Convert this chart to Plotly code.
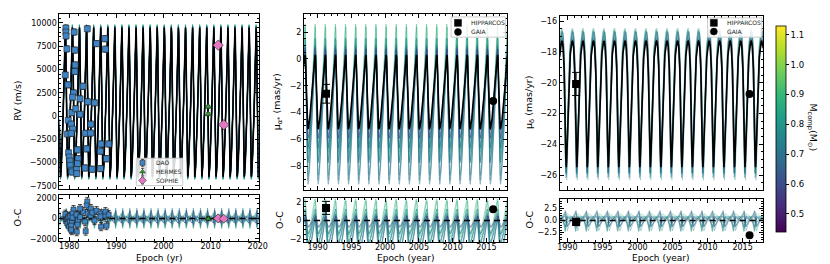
import numpy as np
import plotly.graph_objects as go
from plotly.colors import sample_colorscale

W, H = 830, 264

dao_epoch = [1979.30, 1979.30, 1979.33, 1979.51, 1979.16, 1979.72, 1979.79, 1979.65, 1979.86, 1980.00,
             1980.14, 1980.21, 1980.42, 1980.56, 1981.05, 1981.19, 1981.26, 1981.19, 1980.91, 1980.70,
             1980.56, 1981.39, 1980.42, 1980.70, 1980.42, 1981.74, 1981.88, 1981.74, 1981.53, 1981.60,
             1982.93, 1982.30, 1982.30, 1983.84, 1983.91, 1983.49, 1983.70, 1984.60, 1984.53, 1983.35,
             1984.88, 1985.79, 1985.37, 1986.62, 1987.53, 1987.67, 1986.76, 1986.62, 1987.88, 1988.37]
dao_rv = [9440, 9010, 8590, 7200, 4400, 3350, -450, -1930, -3940, -4400,
          -4830, -5290, -5810, -6000, 9010, 7070, 5480, 4780, 2480, 2020,
          360, 780, -870, -1400, -1860, -3630, -4580, -5110, -5740, -6170,
          3190, 1850, 190, 9360, 1530, -1860, -3520, -870, -1830, -5570,
          -5710, 7770, 1420, -5640, 8300, 7170, -3000, -3770, -4580, -3000]
dao_oc = [150, -250, 300, -100, 450, -350, 200, -500, 100, -800,
          -300, 250, -1000, -1200, 600, -150, 350, 0, 900, 500,
          -400, 200, -700, 100, -1100, 300, -200, -600, 400, -1300,
          700, 1000, 150, 1700, 500, -1250, 1300, 1000, 300, -300,
          600, 800, -200, 500, 300, 700, -800, 200, -700, 400]
dao_err = 330

hermes_epoch = [2009.5, 2009.5]
hermes_rv = [1000, 200]
hermes_oc = [40, -30]
hermes_err = 150

sophie_epoch = [2011.6, 2012.8]
sophie_rv = [7600, -940]
sophie_oc = [20, -10]
sophie_err = 120

hip_epoch = [1991.25]
gaia_epoch = [2016.0]
pmra_hip = [-2.6]
pmra_hip_err = [0.7]
pmra_gaia = [-3.15]
pmra_hip_oc = [1.35]
pmra_gaia_oc = [1.2]
pmdec_hip = [-20.08]
pmdec_hip_err = [0.75]
pmdec_gaia = [-20.73]
pmdec_hip_oc = [-0.3]
pmdec_gaia_oc = [-3.1]

# ---------------- best-fit orbit parameters ----------------
orbit_period = 1.50
orbit_ecc = 0.35
orbit_t_peri = 1980.80
rv_center, rv_a, rv_b = 1500.0, 6928.0, 4000.0
pmra_center, pmra_a, pmra_b = -2.45, 2.60, 0.90
pmdec_center, pmdec_a, pmdec_b = -21.40, 1.54, -3.80

# ---------------- posterior draws (colour = companion mass) ----------------
draw_mass = [0.90, 0.86, 0.82, 0.80, 0.78, 0.76, 0.74, 0.72, 0.70, 0.66, 0.62, 0.58]
draw_dt = [-0.014, 0.011, -0.006, 0.003, -0.010, 0.015, -0.004, 0.009, -0.012, 0.005, -0.008, 0.012]
draw_dt_pmdec = [-0.070, 0.055, -0.030, 0.016, -0.050, 0.075, -0.020, 0.045, -0.060, 0.025, -0.040, 0.060]
draw_rv_scale = [1.04, 1.02, 0.98, 1.01, 1.03, 0.99, 1.00, 1.02, 0.98, 1.01, 0.99, 0.97]
draw_pmra_scale = [1.67, 1.70, 1.50, 1.65, 1.60, 1.70, 1.55, 1.80, 1.75, 1.35, 1.25, 1.20]
draw_pmra_center = [-2.0, -2.3, -2.6, -3.0, -3.3, -4.0, -3.5, -4.4, -4.25, -2.9, -2.5, -2.6]
draw_pmdec_scale = [1.14, 1.12, 1.09, 1.16, 1.13, 1.18, 1.10, 1.15, 1.12, 1.08, 1.05, 1.02]
draw_pmdec_center = [-21.2, -21.3, -21.4, -21.2, -21.3, -21.5, -21.1, -21.4, -21.6, -21.2, -21.5, -21.3]
mass_min, mass_max = 0.44, 1.13

# ---------------- axis ranges ----------------
rv_xr = [1977.9, 2020.2]
pm_xr = [1988.0, 2018.1]
pd_xr = [1988.9, 2017.9]


def true_anomaly(t, tp):
    e = orbit_ecc
    M = 2 * np.pi * (np.asarray(t) - tp) / orbit_period
    E = M.copy()
    for _ in range(40):
        E = E - (E - e * np.sin(E) - M) / (1 - e * np.cos(E))
    return 2 * np.arctan2(np.sqrt(1 + e) * np.sin(E / 2), np.sqrt(1 - e) * np.cos(E / 2))


def shape(nu, a, b):
    return a * (-np.sin(nu)) + b * np.cos(nu)


def rgba(c, a):
    c = c.replace("rgb(", "").replace(")", "")
    return f"rgba({c},{a})"


def px(x):
    return x / W


def py(y):
    return 1 - y / H


t_rv = np.linspace(rv_xr[0], rv_xr[1], 3400)
t_pm = np.linspace(pm_xr[0], pm_xr[1], 2800)
t_pd = np.linspace(pd_xr[0], pd_xr[1], 2800)

fig = go.Figure()

panels = [
    (t_rv, rv_center, rv_a, rv_b, draw_rv_scale, [rv_center] * len(draw_mass), draw_dt,
     ("x", "y"), ("x2", "y2"), 0.75, 0.45),
    (t_pm, pmra_center, pmra_a, pmra_b, draw_pmra_scale, draw_pmra_center, draw_dt,
     ("x3", "y3"), ("x4", "y4"), 0.45, 0.45),
    (t_pd, pmdec_center, pmdec_a, pmdec_b, draw_pmdec_scale, draw_pmdec_center, draw_dt_pmdec,
     ("x5", "y5"), ("x6", "y6"), 0.28, 0.35),
]

for (tg, cen, a, b, dscale, dcen, dts, (xm, ym), (xo, yo), alpha, alpha_oc) in panels:
    best = cen + shape(true_anomaly(tg, orbit_t_peri), a, b)
    for i, m in enumerate(draw_mass):
        col = sample_colorscale("Viridis", [(m - mass_min) / (mass_max - mass_min)])[0]
        model = dcen[i] + dscale[i] * shape(true_anomaly(tg, orbit_t_peri + dts[i]), a, b)
        fig.add_trace(go.Scatter(x=tg, y=model, mode="lines", line=dict(color=rgba(col, alpha), width=1),
                                 xaxis=xm, yaxis=ym, showlegend=False, hoverinfo="skip"))
        fig.add_trace(go.Scatter(x=tg, y=model - best, mode="lines", line=dict(color=rgba(col, alpha_oc), width=1),
                                 xaxis=xo, yaxis=yo, showlegend=False, hoverinfo="skip"))
    fig.add_trace(go.Scatter(x=tg, y=best, mode="lines", line=dict(color="black", width=1.6),
                             xaxis=xm, yaxis=ym, showlegend=False, hoverinfo="skip"))
    fig.add_trace(go.Scatter(x=[tg[0], tg[-1]], y=[0, 0], mode="lines",
                             line=dict(color="black", width=1.5, dash="6px,4px"),
                             xaxis=xo, yaxis=yo, showlegend=False, hoverinfo="skip"))

# ---- RV data ----
EDGE = "#222222"
rv_sets = [
    ("DAO", dao_epoch, dao_rv, dao_oc, dao_err, "#3d85c6", "square", 6),
    ("HERMES", hermes_epoch, hermes_rv, hermes_oc, hermes_err, "#2ca02c", "triangle-up", 6),
    ("SOPHIE", sophie_epoch, sophie_rv, sophie_oc, sophie_err, "#e377c2", "diamond", 8),
]
for name, ep, val, oc, err, col, sym, sz in rv_sets:
    fig.add_trace(go.Scatter(x=ep, y=val, mode="markers",
                             marker=dict(color=col, symbol=sym, size=sz, line=dict(color=EDGE, width=0.6)),
                             error_y=dict(type="constant", value=err, color=EDGE, thickness=0.8, width=2),
                             xaxis="x", yaxis="y", showlegend=False))
    fig.add_trace(go.Scatter(x=ep, y=oc, mode="markers",
                             marker=dict(color=col, symbol=sym, size=sz - 1, line=dict(color=EDGE, width=0.6)),
                             error_y=dict(type="constant", value=err * 1.2, color=EDGE, thickness=0.8, width=2),
                             xaxis="x2", yaxis="y2", showlegend=False))

# ---- astrometry data ----
for (xm, ym, xo, yo, hv, he, gv, hoc, goc) in [
    ("x3", "y3", "x4", "y4", pmra_hip, pmra_hip_err, pmra_gaia, pmra_hip_oc, pmra_gaia_oc),
    ("x5", "y5", "x6", "y6", pmdec_hip, pmdec_hip_err, pmdec_gaia, pmdec_hip_oc, pmdec_gaia_oc),
]:
    eb = dict(type="data", array=he, color="black", thickness=1, width=4)
    fig.add_trace(go.Scatter(x=hip_epoch, y=hv, mode="markers", marker=dict(color="black", symbol="square", size=8),
                             error_y=eb, xaxis=xm, yaxis=ym, showlegend=False))
    fig.add_trace(go.Scatter(x=gaia_epoch, y=gv, mode="markers", marker=dict(color="black", symbol="circle", size=8),
                             xaxis=xm, yaxis=ym, showlegend=False))
    fig.add_trace(go.Scatter(x=hip_epoch, y=hoc, mode="markers", marker=dict(color="black", symbol="square", size=8),
                             error_y=eb, xaxis=xo, yaxis=yo, showlegend=False))
    fig.add_trace(go.Scatter(x=gaia_epoch, y=goc, mode="markers", marker=dict(color="black", symbol="circle", size=8),
                             xaxis=xo, yaxis=yo, showlegend=False))

# ---- colorbar ----
fig.add_trace(go.Scatter(
    x=[2000], y=[1000], mode="markers", xaxis="x3", yaxis="y3", showlegend=False, hoverinfo="skip",
    marker=dict(color=[0.8], cmin=mass_min, cmax=mass_max, colorscale="Viridis", size=1, opacity=0,
                showscale=True,
                colorbar=dict(x=px(776), xanchor="left", y=py(17), yanchor="top",
                              thicknessmode="pixels", thickness=10, lenmode="pixels", len=206,
                              xpad=0, ypad=0, outlinewidth=0.8, outlinecolor="black",
                              tickvals=[0.5, 0.6, 0.7, 0.8, 0.9, 1.0, 1.1], tickformat=".1f",
                              ticks="outside", ticklen=3,
                              tickcolor="black", tickfont=dict(size=8.5, color="black")))))

# ---- hand-drawn legends on a full-figure overlay (pixel coordinates) ----
legend_boxes = [(128, 151, 175, 178.5), (447, 8, 502, 28.5), (707, 9, 762, 28.5)]
for (x0, y0, x1, y1) in legend_boxes:
    fig.add_trace(go.Scatter(x=[x0, x1, x1, x0, x0], y=[y0, y0, y1, y1, y0], mode="lines", fill="toself",
                             fillcolor="rgba(255,255,255,0.85)", line=dict(color="#cccccc", width=1),
                             xaxis="x7", yaxis="y7", showlegend=False, hoverinfo="skip"))
legend_items = [
    (134.3, 155.6, "square", "#3d85c6", 5, 3.5, "DAO"),
    (134.3, 164.6, "triangle-up", "#2ca02c", 5, 3.5, "HERMES"),
    (134.3, 173.4, "diamond", "#e377c2", 6, 3.5, "SOPHIE"),
    (454.0, 14.0, "square", "black", 7, 0, "HIPPARCOS"),
    (454.0, 23.2, "circle", "black", 7, 0, "GAIA"),
    (713.3, 14.0, "square", "black", 7, 0, "HIPPARCOS"),
    (713.3, 22.8, "circle", "black", 7, 0, "GAIA"),
]
for (mx, my, sym, col, sz, eb, lab) in legend_items:
    fig.add_trace(go.Scatter(x=[mx], y=[my], mode="markers",
                             marker=dict(symbol=sym, color=col, size=sz,
                                         line=dict(color=EDGE if col != "black" else "black", width=0.5)),
                             error_y=dict(type="constant", value=eb, color=EDGE, thickness=0.8, width=1.5,
                                          visible=eb > 0),
                             xaxis="x7", yaxis="y7", showlegend=False, hoverinfo="skip"))
    fig.add_annotation(text=lab, x=mx + 11.5, y=my, xref="x7", yref="y7", showarrow=False,
                       xanchor="left", yanchor="middle", font=dict(size=6, family="DejaVu Sans", color="#222"))

FONT = "DejaVu Sans"
common = dict(showline=True, linecolor="black", linewidth=1, mirror="allticks", ticks="inside",
              ticklen=4, tickwidth=0.8, tickcolor="black", showgrid=False, zeroline=False,
              tickfont=dict(size=8, color="black", family=FONT))


def xax(dom, rng, dtick, tick0, minor, labels, anchor):
    d = dict(common)
    d.update(domain=dom, range=rng, dtick=dtick, tick0=tick0, showticklabels=labels, anchor=anchor,
             ticklabelstandoff=-3,
             minor=dict(ticks="inside", ticklen=2, dtick=minor, tickcolor="black", tick0=tick0))
    return d


def yax(dom, rng, anchor, tickvals=None, ticktext=None, dtick=None, minor=None, fmt=None):
    d = dict(common)
    d.update(domain=dom, range=rng, anchor=anchor)
    if tickvals is not None:
        d["tickvals"] = tickvals
    if ticktext is not None:
        d["ticktext"] = ticktext
    if dtick is not None:
        d["dtick"] = dtick
        d["tick0"] = 0
    if fmt:
        d["tickformat"] = fmt
    if minor:
        d["minor"] = dict(ticks="inside", ticklen=2, dtick=minor, tickcolor="black", tick0=0)
    return d


rv_ticks = [-7500, -5000, -2500, 0, 2500, 5000, 7500, 10000]
rv_ticktext = [str(v).replace("-", "\u2212") for v in rv_ticks]
oc_ticks = [-2000, 0, 2000]
oc_ticktext = [str(v).replace("-", "\u2212") for v in oc_ticks]

xa = [px(50), px(252)]
xb = [px(298), px(504)]
xc = [px(557), px(763)]

fig.update_layout(
    width=W, height=H, margin=dict(l=0, r=0, t=0, b=0),
    paper_bgcolor="white", plot_bgcolor="rgba(0,0,0,0)",
    font=dict(family=FONT, color="black"),
    showlegend=False,
    xaxis=xax(xa, rv_xr, 10, 1980, 2, False, "y"),
    yaxis=yax([py(182), py(5)], [-7820, 10950], "x", tickvals=rv_ticks, ticktext=rv_ticktext, minor=500),
    xaxis2=xax(xa, rv_xr, 10, 1980, 2, True, "y2"),
    yaxis2=yax([py(235), py(188)], [-2250, 2350], "x2", tickvals=oc_ticks, ticktext=oc_ticktext, minor=500),
    xaxis3=xax(xb, pm_xr, 5, 1990, 1, False, "y3"),
    yaxis3=yax([py(183), py(5)], [-9.77, 3.35], "x3", dtick=2, minor=0.5),
    xaxis4=xax(xb, pm_xr, 5, 1990, 1, True, "y4"),
    yaxis4=yax([py(236), py(191)], [-2.35, 2.43], "x4", dtick=2, minor=0.5),
    xaxis5=xax(xc, pd_xr, 5, 1990, 1, False, "y5"),
    yaxis5=yax([py(183), py(7)], [-26.97, -15.66], "x5", dtick=2, minor=0.5),
    xaxis6=xax(xc, pd_xr, 5, 1990, 1, True, "y6"),
    yaxis6=yax([py(236), py(192)], [-4.55, 4.5], "x6", tickvals=[-2.5, 0, 2.5], minor=0.5, fmt=".1f"),
    xaxis7=dict(domain=[0, 1], range=[0, W], visible=False, fixedrange=True, anchor="y7"),
    yaxis7=dict(domain=[0, 1], range=[H, 0], visible=False, fixedrange=True, anchor="x7"),
)

ann = [
    ("RV (m/s)", 8, 93, -90, 9.5),
    ("O-C", 8, 211, -90, 9.5),
    ("μ<sub>α*</sub> (mas/yr)", 272, 94, -90, 9.5),
    ("O-C", 273, 213, -90, 9.5),
    ("μ<sub>δ</sub> (mas/yr)", 527, 95, -90, 9.5),
    ("O-C", 527, 213, -90, 9.5),
    ("Epoch (yr)", 151, 252, 0, 9),
    ("Epoch (year)", 401, 252, 0, 9),
    ("Epoch (year)", 660, 252, 0, 9),
    ("M<sub>comp</sub>(M<sub>⊙</sub>)", 813, 120, 90, 9.5),
]
for txt, x, y, ang, fs in ann:
    fig.add_annotation(text=txt, x=px(x), y=py(y), xref="paper", yref="paper", showarrow=False,
                       textangle=ang, xanchor="center", yanchor="middle", borderpad=0,
                       font=dict(size=fs, family=FONT, color="black"))

fig.write_html("out.html")
